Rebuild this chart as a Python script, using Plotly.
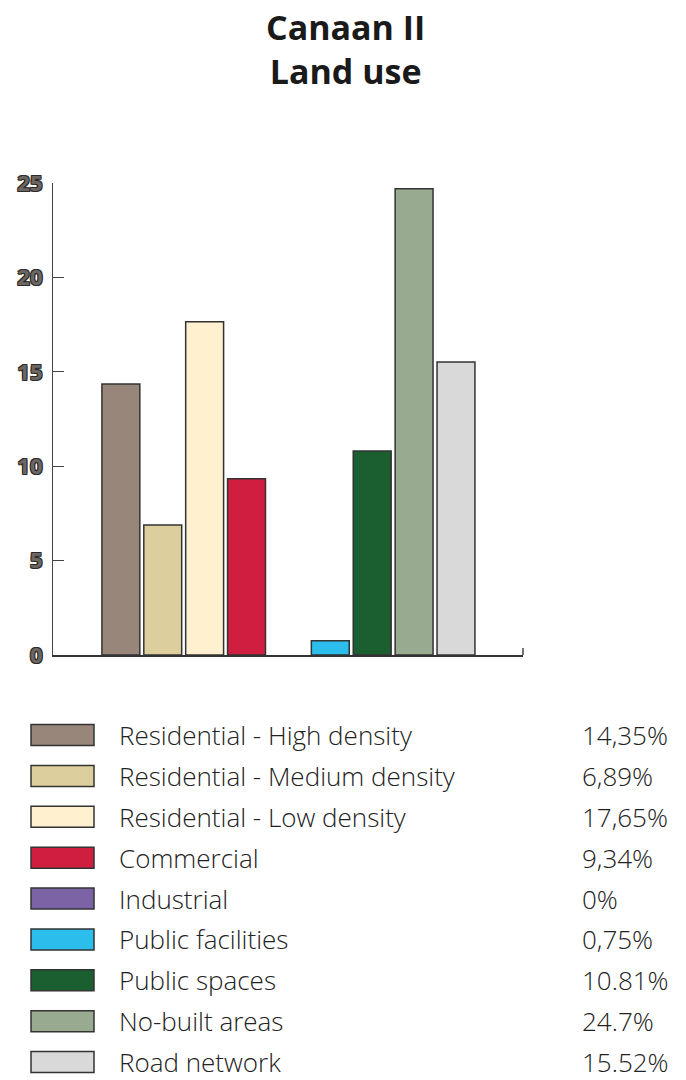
import plotly.graph_objects as go

# Land use shares (percent of total area)
categories = [
    "Residential - High density",
    "Residential - Medium density",
    "Residential - Low density",
    "Commercial",
    "Industrial",
    "Public facilities",
    "Public spaces",
    "No-built areas",
    "Road network",
]
values = [14.35, 6.89, 17.65, 9.34, 0, 0.75, 10.81, 24.7, 15.52]
value_labels = ["14,35%", "6,89%", "17,65%", "9,34%", "0%", "0,75%", "10.81%", "24.7%", "15.52%"]
colors = ["#978679", "#ddcf9d", "#fff0d0", "#d01e40", "#7c63a6",
          "#2bbdec", "#1b5e2f", "#98ab91", "#d9d9d9"]
y_ticks = [0, 5, 10, 15, 20, 25]

W, H = 686, 1080
PLOT_L, PLOT_R, PLOT_T, PLOT_B = 53, 523, 183, 655


def px_x(px):
    return (px - PLOT_L) / (PLOT_R - PLOT_L)


def px_y(py):
    return (PLOT_B - py) / (PLOT_B - PLOT_T)


fig = go.Figure()
fig.add_trace(go.Bar(
    x=list(range(len(categories))),
    y=values,
    width=0.905,
    marker=dict(color=colors,
                line=dict(color="#333333", width=[1.5 if v > 0 else 0 for v in values])),
    hovertext=categories,
    showlegend=False,
))

outline = "-1px -1px 0 #2b2b2b, 1px -1px 0 #2b2b2b, -1px 1px 0 #2b2b2b, 1px 1px 0 #2b2b2b"

fig.update_layout(
    width=W, height=H,
    margin=dict(l=PLOT_L, r=W - PLOT_R, t=PLOT_T, b=H - PLOT_B, pad=0),
    paper_bgcolor="white",
    plot_bgcolor="white",
    xaxis=dict(
        range=[-1.62, 9.6],
        showticklabels=False, ticks="",
        showgrid=False, zeroline=False,
        showline=True, linecolor="#333333", linewidth=1.5,
    ),
    yaxis=dict(
        range=[0, 25],
        tickvals=y_ticks,
        ticks="inside", ticklen=11, tickcolor="#444444", tickwidth=1.2,
        showgrid=False, zeroline=False,
        showline=True, linecolor="#444444", linewidth=1.2,
        ticklabelstandoff=5,
        tickfont=dict(family="Open Sans", size=22, color="#6e6660",
                      weight="bold", shadow=outline),
    ),
)

# two-line chart title
fig.add_annotation(xref="paper", yref="paper", x=px_x(345), y=px_y(2),
                   xanchor="center", yanchor="top", showarrow=False,
                   text="Canaan II<br>Land use",
                   font=dict(family="Open Sans", size=34, color="#1a1a1a", weight="bold"))

# small end tick at the right end of the baseline
fig.add_shape(type="line", xref="paper", yref="paper",
              x0=1, x1=1, y0=0, y1=px_y(648),
              line=dict(color="#444444", width=1.5))

# legend table below the chart
row_top, row_bottom = 735, 1062
step = (row_bottom - row_top) / (len(categories) - 1)
legend_font = dict(family="Open Sans", size=26, color="#222222", weight=300)
for i, (name, col, lab) in enumerate(zip(categories, colors, value_labels)):
    cy = row_top + i * step
    fig.add_shape(type="rect", xref="paper", yref="paper",
                  x0=px_x(31), x1=px_x(94), y0=px_y(cy - 10.5), y1=px_y(cy + 10.5),
                  fillcolor=col, line=dict(color="#333333", width=1.5))
    fig.add_annotation(xref="paper", yref="paper", x=px_x(117), y=px_y(cy),
                       xanchor="left", yanchor="middle", showarrow=False,
                       text=name, font=legend_font)
    fig.add_annotation(xref="paper", yref="paper", x=px_x(580), y=px_y(cy),
                       xanchor="left", yanchor="middle", showarrow=False,
                       text=lab, font=legend_font)

fig.write_html("out.html")
